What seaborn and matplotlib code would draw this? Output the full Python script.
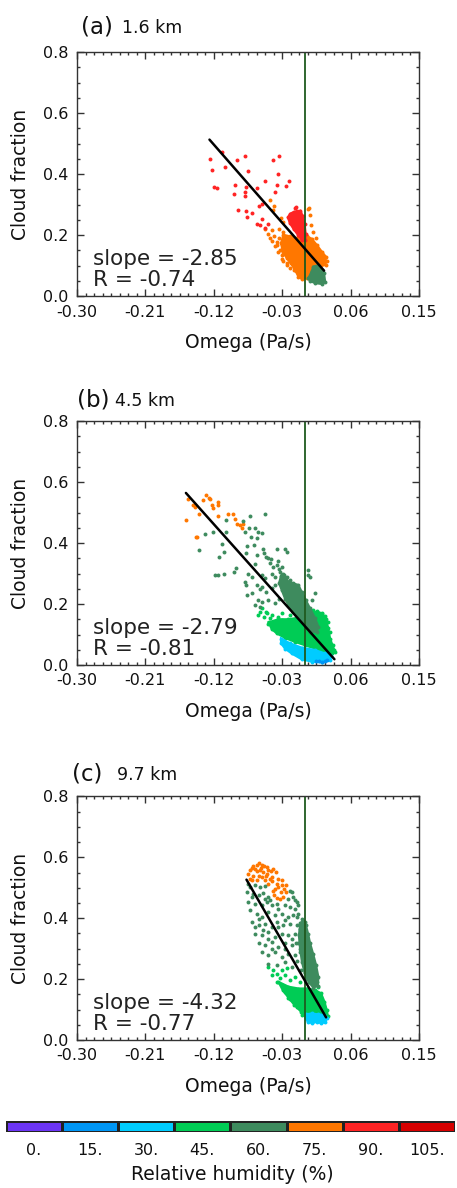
import numpy as np
import matplotlib
matplotlib.use("Agg")
import matplotlib.pyplot as plt
from matplotlib.colors import ListedColormap
from matplotlib.ticker import AutoMinorLocator
import seaborn as sns

# ------------------------------
# Relative humidity colour levels
# ------------------------------
rh_levels = [0, 15, 30, 45, 60, 75, 90, 105]
rh_labels = ["0.", "15.", "30.", "45.", "60.", "75.", "90.", "105."]
rh_colors = ["#6c35f5", "#0096f5", "#00ccff", "#00cc55",
             "#3e8b5e", "#ff7700", "#ff2424", "#d60000"]

# ------------------------------
# Panel info (fit values as printed on the chart)
# ------------------------------
panel_tags = ["(a)", "(b)", "(c)"]
panel_heights = ["1.6 km", "4.5 km", "9.7 km"]
fit_slopes = [-2.85, -2.79, -4.32]
fit_r = [-0.74, -0.81, -0.77]
fit_intercepts = [0.155, 0.127, 0.194]
fit_x_ranges = [(-0.1257, 0.0251), (-0.1567, 0.0387), (-0.077, 0.0277)]

x_ticks = [-0.30, -0.21, -0.12, -0.03, 0.06, 0.15]
y_ticks = [0.0, 0.2, 0.4, 0.6, 0.8]

# ------------------------------
# Panel (a) 1.6 km : (omega, cloud fraction)
# ------------------------------
a_pts_90 = [(-0.1256, 0.450), (-0.1226, 0.415), (-0.1094, 0.472), (-0.1055, 0.424),
            (-0.0897, 0.446), (-0.0796, 0.458), (-0.0424, 0.446), (-0.0345, 0.458),
            (-0.0744, 0.409), (-0.0354, 0.399), (-0.0525, 0.376), (-0.1195, 0.357),
            (-0.1160, 0.354), (-0.0915, 0.365), (-0.0928, 0.334), (-0.0783, 0.358),
            (-0.0792, 0.341), (-0.0796, 0.329), (-0.0630, 0.356), (-0.0372, 0.365),
            (-0.0205, 0.378), (-0.0253, 0.361), (-0.0393, 0.341), (-0.0564, 0.302),
            (-0.0888, 0.284), (-0.0779, 0.279), (-0.0700, 0.273), (-0.0604, 0.294),
            (-0.0569, 0.254), (-0.0634, 0.236), (-0.0590, 0.234), (-0.0481, 0.236),
            (-0.0766, 0.258), (-0.0118, 0.293), (-0.0130, 0.288), (-0.0110, 0.280),
            (-0.0530, 0.222)]
a_core_90 = [(-0.0150, 0.276), (-0.0060, 0.280), (-0.0030, 0.262), (-0.0005, 0.235),
             (0.0008, 0.205), (0.0005, 0.183), (-0.0045, 0.185), (-0.0090, 0.200),
             (-0.0150, 0.220), (-0.0200, 0.240), (-0.0225, 0.258), (-0.0195, 0.270)]
a_pts_75 = [(-0.0459, 0.316), (-0.0407, 0.297), (-0.0415, 0.283), (-0.0315, 0.257),
            (-0.0293, 0.243), (0.0045, 0.286), (0.0066, 0.267), (0.0084, 0.234),
            (-0.0341, 0.221), (-0.0481, 0.203), (-0.0525, 0.220), (-0.0437, 0.217),
            (-0.0372, 0.179), (-0.0389, 0.163), (-0.0284, 0.168), (-0.0328, 0.152),
            (-0.0231, 0.152), (-0.0196, 0.174), (-0.0459, 0.190), (-0.0262, 0.190),
            (-0.0306, 0.122), (-0.0240, 0.108), (-0.0144, 0.086), (-0.0065, 0.201),
            (-0.0293, 0.212), (0.0286, 0.116), (-0.0437, 0.181), (-0.0407, 0.196),
            (-0.0363, 0.168), (-0.0337, 0.190), (-0.0306, 0.174), (-0.0275, 0.152),
            (-0.0350, 0.144), (-0.0306, 0.136), (-0.0249, 0.136), (-0.0218, 0.157),
            (-0.0231, 0.179), (-0.0175, 0.152), (-0.0175, 0.130), (-0.0284, 0.116),
            (-0.0231, 0.101), (-0.0196, 0.092), (-0.0144, 0.103), (-0.0109, 0.081),
            (0.0050, 0.290), (0.0100, 0.210), (0.0150, 0.190)]
a_core_75 = [(-0.0284, 0.201), (-0.0196, 0.196), (-0.0109, 0.190), (-0.0043, 0.181),
             (0.0031, 0.196), (0.0088, 0.188), (0.0154, 0.168), (0.0220, 0.146),
             (0.0272, 0.130), (0.0272, 0.103), (0.0198, 0.097), (0.0110, 0.094),
             (0.0066, 0.079), (0.0031, 0.061), (-0.0043, 0.057), (-0.0087, 0.064),
             (-0.0131, 0.086), (-0.0188, 0.108), (-0.0240, 0.125), (-0.0293, 0.146),
             (-0.0315, 0.174)]
a_core_60 = [(0.0110, 0.097), (0.0176, 0.101), (0.0220, 0.086), (0.0250, 0.075),
             (0.0264, 0.048), (0.0220, 0.040), (0.0132, 0.043), (0.0066, 0.050),
             (0.0045, 0.059), (0.0088, 0.081)]

# ------------------------------
# Panel (b) 4.5 km
# ------------------------------
b_pts_75 = [(-0.1563, 0.476), (-0.1542, 0.544), (-0.1480, 0.524), (-0.1454, 0.518),
            (-0.1401, 0.496), (-0.1340, 0.540), (-0.1301, 0.557), (-0.1261, 0.548),
            (-0.1244, 0.546), (-0.1226, 0.524), (-0.1147, 0.533), (-0.1139, 0.524),
            (-0.1139, 0.489), (-0.1007, 0.496), (-0.0942, 0.494), (-0.0920, 0.479),
            (-0.0898, 0.464), (-0.0854, 0.459), (-0.0832, 0.450), (-0.0810, 0.461),
            (-0.1436, 0.421), (-0.1415, 0.421), (-0.1217, 0.514)]
b_pts_60 = [(-0.1042, 0.477), (-0.0727, 0.488), (-0.0525, 0.494), (-0.0810, 0.472),
            (-0.0788, 0.437), (-0.0736, 0.448), (-0.0657, 0.450), (-0.0622, 0.437),
            (-0.0569, 0.432), (-0.0709, 0.421), (-0.0631, 0.415), (-0.1042, 0.437),
            (-0.1095, 0.398), (-0.1060, 0.371), (-0.1126, 0.355), (-0.1182, 0.295),
            (-0.1147, 0.295), (-0.1060, 0.300), (-0.0928, 0.304), (-0.0911, 0.319),
            (-0.0758, 0.390), (-0.0666, 0.395), (-0.0779, 0.366), (-0.0635, 0.360),
            (-0.0547, 0.382), (-0.0534, 0.366), (-0.0517, 0.355), (-0.0482, 0.352),
            (-0.0447, 0.347), (-0.0372, 0.380), (-0.0263, 0.382), (-0.0241, 0.371),
            (-0.0460, 0.333), (-0.0416, 0.322), (-0.0341, 0.315), (-0.0657, 0.330),
            (-0.0753, 0.297), (-0.0701, 0.289), (-0.0569, 0.295), (-0.0525, 0.284),
            (-0.0438, 0.300), (-0.0394, 0.289), (-0.0306, 0.295), (-0.0285, 0.284),
            (-0.0788, 0.273), (-0.0775, 0.262), (-0.0766, 0.229), (-0.0692, 0.235),
            (-0.0635, 0.262), (-0.0591, 0.249), (-0.0561, 0.257), (-0.0517, 0.240),
            (-0.0438, 0.251), (-0.0394, 0.262), (-0.0613, 0.213), (-0.0561, 0.207),
            (-0.0490, 0.213), (-0.0394, 0.205), (-0.0341, 0.216), (-0.0657, 0.197),
            (-0.0591, 0.191), (0.0044, 0.311), (0.0066, 0.289), (0.0035, 0.295),
            (0.0132, 0.235), (0.0088, 0.213), (-0.1314, 0.428), (-0.1393, 0.377),
            (-0.1217, 0.437), (-0.0372, 0.327), (-0.0328, 0.306), (-0.0284, 0.300),
            (-0.0241, 0.290), (-0.0200, 0.280), (-0.0350, 0.340), (-0.0300, 0.320)]
b_core_60 = [(-0.0315, 0.293), (-0.0271, 0.295), (-0.0219, 0.273), (-0.0153, 0.268),
             (-0.0087, 0.262), (-0.0044, 0.240), (0.0009, 0.213), (0.0066, 0.186),
             (0.0132, 0.153), (0.0175, 0.126), (0.0153, 0.109), (0.0066, 0.109),
             (0.0000, 0.131), (-0.0079, 0.153), (-0.0153, 0.175), (-0.0219, 0.197),
             (-0.0263, 0.218), (-0.0306, 0.246), (-0.0341, 0.268)]
b_pts_45 = [(-0.0561, 0.186), (-0.0517, 0.175), (-0.0534, 0.158), (-0.0504, 0.169),
            (-0.0460, 0.153), (-0.0438, 0.164), (-0.0394, 0.142), (-0.0482, 0.133),
            (-0.0416, 0.131), (-0.0350, 0.158), (-0.0306, 0.147), (-0.0263, 0.136),
            (-0.0197, 0.147), (-0.0131, 0.131), (0.0153, 0.177), (0.0219, 0.166),
            (-0.0022, 0.162), (0.0307, 0.142), (0.0329, 0.109), (0.0372, 0.065),
            (0.0394, 0.043), (-0.0591, 0.175), (-0.0613, 0.164), (-0.0300, 0.170),
            (-0.0200, 0.165), (0.0100, 0.180), (0.0260, 0.160)]
b_core_45 = [(-0.0480, 0.140), (-0.0350, 0.150), (-0.0220, 0.150), (-0.0087, 0.155),
             (0.0044, 0.165), (0.0153, 0.175), (0.0219, 0.170), (0.0272, 0.150),
             (0.0307, 0.120), (0.0329, 0.087), (0.0385, 0.049), (0.0350, 0.038),
             (0.0241, 0.043), (0.0132, 0.054), (0.0000, 0.065), (-0.0131, 0.076),
             (-0.0263, 0.089), (-0.0372, 0.104), (-0.0438, 0.118)]
b_core_30 = [(-0.0315, 0.087), (-0.0197, 0.071), (-0.0044, 0.057), (0.0132, 0.049),
             (0.0263, 0.038), (0.0342, 0.030), (0.0329, 0.016), (0.0219, 0.009),
             (0.0088, 0.011), (-0.0044, 0.019), (-0.0175, 0.038), (-0.0263, 0.054),
             (-0.0315, 0.071)]
b_pts_15 = [(0.0150, 0.014), (0.0180, 0.012), (0.0220, 0.011), (0.0260, 0.013),
            (0.0290, 0.015)]

# ------------------------------
# Panel (c) 9.7 km
# ------------------------------
c_pts_75 = [(-0.0722, 0.557), (-0.0744, 0.546), (-0.0700, 0.565), (-0.0678, 0.573),
            (-0.0634, 0.575), (-0.0604, 0.580), (-0.0569, 0.575), (-0.0534, 0.573),
            (-0.0503, 0.568), (-0.0481, 0.557), (-0.0446, 0.554), (-0.0415, 0.560),
            (-0.0385, 0.551), (-0.0437, 0.535), (-0.0503, 0.546), (-0.0547, 0.551),
            (-0.0591, 0.557), (-0.0634, 0.554), (-0.0678, 0.540), (-0.0722, 0.530),
            (-0.0700, 0.527), (-0.0634, 0.527), (-0.0569, 0.535), (-0.0525, 0.524),
            (-0.0481, 0.513), (-0.0428, 0.521), (-0.0372, 0.513), (-0.0393, 0.497),
            (-0.0350, 0.502), (-0.0306, 0.508), (-0.0271, 0.497), (-0.0253, 0.486),
            (-0.0284, 0.470), (-0.0328, 0.464), (-0.0372, 0.466), (-0.0415, 0.491),
            (-0.0459, 0.530), (-0.0350, 0.530), (-0.0306, 0.524), (-0.0253, 0.508),
            (-0.0402, 0.475), (-0.0315, 0.486), (-0.0656, 0.562), (-0.0577, 0.565),
            (-0.0516, 0.540), (-0.0612, 0.540)]
c_pts_60 = [(-0.0753, 0.513), (-0.0722, 0.502), (-0.0656, 0.510), (-0.0591, 0.502),
            (-0.0525, 0.506), (-0.0196, 0.491), (-0.0174, 0.486), (-0.0131, 0.459),
            (-0.0766, 0.486), (-0.0678, 0.480), (-0.0612, 0.475), (-0.0547, 0.484),
            (-0.0481, 0.469), (-0.0459, 0.459), (-0.0218, 0.464), (-0.0152, 0.469),
            (-0.0109, 0.453), (-0.0744, 0.453), (-0.0656, 0.448), (-0.0569, 0.442),
            (-0.0503, 0.453), (-0.0437, 0.442), (-0.0372, 0.448), (-0.0262, 0.442),
            (-0.0196, 0.437), (-0.0131, 0.431), (-0.0087, 0.442), (-0.0722, 0.426),
            (-0.0634, 0.415), (-0.0569, 0.404), (-0.0481, 0.420), (-0.0393, 0.409),
            (-0.0306, 0.415), (-0.0218, 0.404), (-0.0152, 0.409), (-0.0087, 0.415),
            (-0.0043, 0.399), (-0.0700, 0.388), (-0.0612, 0.377), (-0.0525, 0.382),
            (-0.0437, 0.371), (-0.0372, 0.388), (-0.0284, 0.377), (-0.0196, 0.382),
            (-0.0109, 0.377), (-0.0043, 0.371), (0.0001, 0.388), (-0.0656, 0.349),
            (-0.0569, 0.344), (-0.0481, 0.355), (-0.0393, 0.338), (-0.0306, 0.349),
            (-0.0218, 0.344), (-0.0131, 0.349), (-0.0065, 0.338), (0.0001, 0.349),
            (-0.0612, 0.317), (-0.0525, 0.311), (-0.0437, 0.322), (-0.0350, 0.306),
            (-0.0262, 0.317), (-0.0174, 0.311), (-0.0087, 0.317), (-0.0569, 0.289),
            (-0.0481, 0.278), (-0.0393, 0.289), (-0.0306, 0.273), (-0.0218, 0.284),
            (-0.0131, 0.278), (-0.0481, 0.251), (-0.0372, 0.246), (-0.0262, 0.257),
            (-0.0174, 0.240), (-0.0700, 0.469), (-0.0525, 0.464), (-0.0350, 0.431),
            (-0.0612, 0.399), (-0.0262, 0.393), (-0.0481, 0.333), (-0.0174, 0.333),
            (-0.0350, 0.371), (-0.0656, 0.371), (-0.0547, 0.360), (-0.0262, 0.300),
            (-0.0437, 0.300), (-0.0065, 0.289), (-0.0110, 0.405), (-0.0065, 0.365),
            (-0.0120, 0.320), (-0.0100, 0.260), (-0.0050, 0.230), (0.0010, 0.200)]
c_core_60 = [(-0.0060, 0.385), (-0.0020, 0.390), (0.0010, 0.378), (0.0040, 0.349),
             (0.0067, 0.317), (0.0105, 0.284), (0.0145, 0.246), (0.0175, 0.207),
             (0.0168, 0.178), (0.0110, 0.172), (0.0050, 0.190), (-0.0005, 0.220),
             (-0.0040, 0.257), (-0.0065, 0.300), (-0.0080, 0.344)]
c_pts_45 = [(-0.0481, 0.240), (-0.0415, 0.229), (-0.0437, 0.213), (-0.0372, 0.218),
            (-0.0328, 0.202), (-0.0262, 0.213), (-0.0196, 0.197), (-0.0131, 0.207),
            (-0.0065, 0.191), (0.0001, 0.202), (0.0088, 0.186), (0.0154, 0.191),
            (0.0176, 0.175), (-0.0372, 0.191), (-0.0306, 0.180), (-0.0262, 0.158),
            (-0.0196, 0.136), (-0.0109, 0.109), (-0.0043, 0.082), (-0.0240, 0.235),
            (-0.0306, 0.229)]
c_core_45 = [(-0.0350, 0.191), (-0.0218, 0.175), (-0.0087, 0.169), (0.0023, 0.169),
             (0.0132, 0.164), (0.0211, 0.153), (0.0255, 0.126), (0.0286, 0.098),
             (0.0299, 0.080), (0.0220, 0.071), (0.0110, 0.071), (0.0010, 0.076),
             (-0.0052, 0.093), (-0.0139, 0.115), (-0.0218, 0.139), (-0.0293, 0.164)]
c_core_30 = [(0.0010, 0.084), (0.0088, 0.087), (0.0176, 0.084), (0.0255, 0.082),
             (0.0286, 0.071), (0.0264, 0.058), (0.0211, 0.055), (0.0154, 0.060),
             (0.0097, 0.055), (0.0036, 0.060), (0.0010, 0.071)]

# sparse points and dense cores for each panel
panel_points = [
    {90: a_pts_90, 75: a_pts_75},
    {75: b_pts_75, 60: b_pts_60, 45: b_pts_45, 15: b_pts_15},
    {75: c_pts_75, 60: c_pts_60, 45: c_pts_45},
]
panel_cores = [
    {90: a_core_90, 75: a_core_75, 60: a_core_60},
    {60: b_core_60, 45: b_core_45, 30: b_core_30},
    {60: c_core_60, 45: c_core_45, 30: c_core_30},
]
draw_order = [75, 45, 60, 30, 15, 90]

# ------------------------------
# Figure
# ------------------------------
sns.set_style("ticks")
plt.rcParams["font.family"] = ["DejaVu Sans"]
plt.rcParams["axes.unicode_minus"] = False

palette = dict(zip(rh_levels, rh_colors))
spine_col = "#333333"

fig = plt.figure(figsize=(4.57, 11.88), dpi=100)
axes_rects = [[0.1685, 0.7507, 0.7484, 0.2054],
              [0.1685, 0.4402, 0.7484, 0.2054],
              [0.1685, 0.1246, 0.7484, 0.2050]]
# (tag x, height x, baseline y) in figure fractions
title_pos = [(0.1766, 0.2663, 0.9722), (0.1685, 0.2516, 0.6582), (0.1570, 0.2560, 0.3434)]

for i, rect in enumerate(axes_rects):
    ax = fig.add_axes(rect)
    pts = panel_points[i]
    cores = panel_cores[i]

    for rh in draw_order:
        col = palette[rh]
        if rh in cores:
            cx, cy = zip(*cores[rh])
            ax.fill(cx, cy, color=col, lw=1.6)
            sns.scatterplot(x=list(cx), y=list(cy), color=col, s=8,
                            linewidth=0, ax=ax)
        if rh in pts:
            px, py = zip(*pts[rh])
            sns.scatterplot(x=list(px), y=list(py), color=col, s=8,
                            linewidth=0, ax=ax)

    # zero line and fit
    ax.axvline(0, color="#1f5a1f", lw=1.3)
    fx = np.array(fit_x_ranges[i])
    ax.plot(fx, fit_intercepts[i] + fit_slopes[i] * fx, color="black", lw=1.8)

    ax.text(0.047, 0.128, f"slope = {fit_slopes[i]:.2f}", transform=ax.transAxes,
            fontsize=15.5, va="baseline", color="#222222")
    ax.text(0.047, 0.042, f"R = {fit_r[i]:.2f}", transform=ax.transAxes,
            fontsize=15.5, va="baseline", color="#222222")

    # axes styling
    ax.set_xlim(-0.30, 0.15)
    ax.set_ylim(0.0, 0.8)
    ax.set_xticks(x_ticks)
    ax.set_xticklabels([f"{v:.2f}" for v in x_ticks])
    ax.set_yticks(y_ticks)
    ax.set_yticklabels([f"{v:.1f}" for v in y_ticks])
    ax.xaxis.set_minor_locator(AutoMinorLocator(8))
    ax.yaxis.set_minor_locator(AutoMinorLocator(4))
    ax.tick_params(which="both", direction="in", top=True, right=True,
                   color=spine_col, width=1.0, labelsize=11.5, pad=6,
                   labelcolor="#111111")
    ax.tick_params(which="major", length=5)
    ax.tick_params(which="minor", length=2.5)
    for sp in ax.spines.values():
        sp.set_color(spine_col)
        sp.set_linewidth(1.0)

    ax.set_xlabel("Omega (Pa/s)", fontsize=13.5, color="#111111")
    ax.set_ylabel("Cloud fraction", fontsize=13.5, color="#111111")
    ax.xaxis.set_label_coords(0.5, -0.15)
    ax.yaxis.set_label_coords(-0.137, 0.5)

    tx, hx, ty = title_pos[i]
    fig.text(tx, ty, panel_tags[i], fontsize=16.5, va="baseline", color="#111111")
    fig.text(hx, ty, panel_heights[i], fontsize=12.5, va="baseline", color="#111111")

# ------------------------------
# Colour bar for relative humidity
# ------------------------------
cax = fig.add_axes([0.0131, 0.0474, 0.9825, 0.0090])
sns.heatmap(np.array([rh_levels]), cmap=ListedColormap(rh_colors),
            vmin=-7.5, vmax=112.5, cbar=False, linewidths=1.0,
            linecolor="#222222", xticklabels=rh_labels, yticklabels=False,
            ax=cax)
cax.tick_params(axis="x", length=0, pad=8, labelsize=11.5, rotation=0,
                labelcolor="#111111")
fig.text(0.508, 0.0067, "Relative humidity (%)", ha="center", va="baseline",
         fontsize=13.5, color="#111111")

fig.savefig("out.png", dpi=100)
